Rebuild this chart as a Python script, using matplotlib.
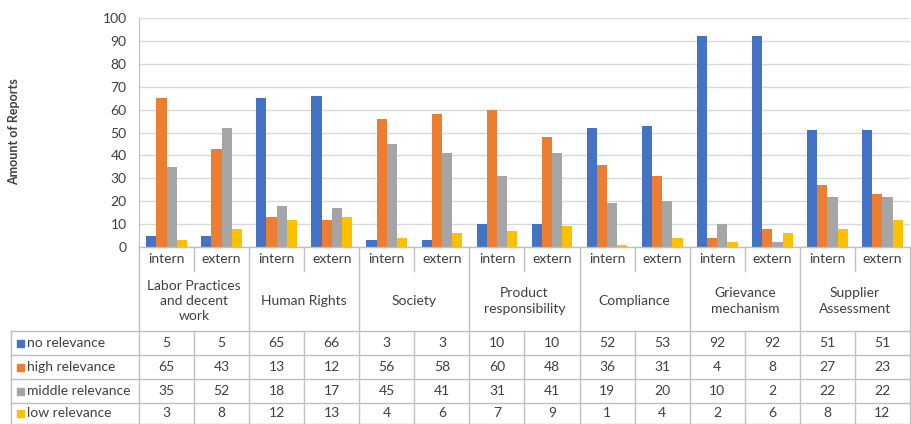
import numpy as np
import matplotlib
matplotlib.use("Agg")
import matplotlib.pyplot as plt

groups = ["Labor Practices\nand decent\nwork", "Human Rights", "Society",
          "Product\nresponsibility", "Compliance", "Grievance\nmechanism",
          "Supplier\nAssessment"]
subs = ["intern", "extern"]
series = ["no relevance", "high relevance", "middle relevance", "low relevance"]
no_rel = [5, 5, 65, 66, 3, 3, 10, 10, 52, 53, 92, 92, 51, 51]
high_rel = [65, 43, 13, 12, 56, 58, 60, 48, 36, 31, 4, 8, 27, 23]
middle_rel = [35, 52, 18, 17, 45, 41, 31, 41, 19, 20, 10, 2, 22, 22]
low_rel = [3, 8, 12, 13, 4, 6, 7, 9, 1, 4, 2, 6, 8, 12]
colors = ["#4472C4", "#ED7D31", "#A5A5A5", "#FFC000"]

plt.rcParams["font.family"] = ["Lato", "DejaVu Sans"]
W, H = 912, 424
fig = plt.figure(figsize=(W / 100, H / 100), dpi=100)

left, right = 139 / W, 910 / W
ax = fig.add_axes([left, 1 - 247 / H, right - left, (247 - 18) / H])
x = np.arange(len(no_rel))
bw = 0.185
for i, vals in enumerate([no_rel, high_rel, middle_rel, low_rel]):
    ax.bar(x + (i - 1.5) * bw, vals, bw, color=colors[i], zorder=3)
ax.set_xlim(-0.5, len(no_rel) - 0.5)
ax.set_ylim(0, 100)
ax.set_yticks(range(0, 101, 10))
ax.tick_params(axis="y", length=0, pad=9, labelsize=10, labelcolor="#404040")
ax.set_xticks([])
ax.grid(axis="y", color="#D9D9D9", linewidth=1, zorder=0)
for s in ["top", "right", "bottom"]:
    ax.spines[s].set_visible(False)
ax.spines["left"].set_color("#BFBFBF")

fig.text(14 / W, 1 - 132 / H, "Amount of Reports", rotation=90, ha="center",
         va="center", fontsize=9, fontweight="bold", color="#404040")

# table below the plot, x in column units, y in pixels
tab = fig.add_axes([left, 0, right - left, 177 / H])
tab.set_xlim(-0.5, len(no_rel) - 0.5)
tab.set_ylim(H, 247)
tab.axis("off")
lc = "#BFBFBF"
tc = "#404040"
colw = (910 - 139) / len(no_rel)
x0 = -0.5 - (139 - 11) / colw
xr = len(no_rel) - 0.5 + 2 / colw
kw = dict(color=lc, linewidth=1, clip_on=False)
# top axis line
tab.plot([-0.5, xr], [247, 247], **kw)
# horizontal row lines
for yy in [331, 355, 379, 403, 423.5]:
    tab.plot([x0, xr], [yy, yy], **kw)
# vertical lines
tab.plot([x0, x0], [331, H], **kw)
tab.plot([-0.5, -0.5], [247, H], **kw)
for k in range(1, len(no_rel) + 1):
    xx = k - 0.5
    if k % 2 == 0:
        tab.plot([xx, xx], [247, H], **kw)
    else:
        tab.plot([xx, xx], [247, 271], **kw)
        tab.plot([xx, xx], [331, H], **kw)

# sub labels and group labels
for k in range(len(no_rel)):
    tab.text(k, 259, subs[k % 2], ha="center", va="center", fontsize=10, color=tc)
for g, name in enumerate(groups):
    tab.text(2 * g + 0.5, 301, name, ha="center", va="center", fontsize=10,
             color=tc, linespacing=1.35)

# data rows
rows_y = [343, 367, 391, 413]
for r, vals in enumerate([no_rel, high_rel, middle_rel, low_rel]):
    yy = rows_y[r]
    tab.text(x0 + 16 / colw, yy, series[r], ha="left", va="center", fontsize=10,
             color=tc, clip_on=False)
    tab.add_patch(plt.Rectangle((x0 + 6 / colw, yy - 3.5), 7 / colw, 7,
                                color=colors[r], clip_on=False))
    for k, v in enumerate(vals):
        tab.text(k, yy, str(v), ha="center", va="center", fontsize=10, color=tc)

fig.savefig("out.png", dpi=100)
